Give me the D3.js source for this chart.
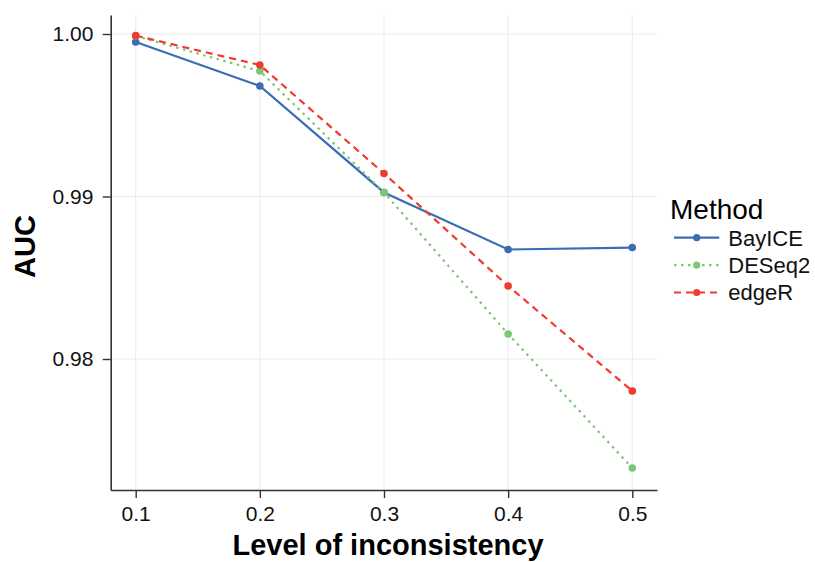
<!DOCTYPE html>
<html>
<head>
<meta charset="utf-8">
<script src="https://cdn.jsdelivr.net/npm/d3@7"></script>
<style>
  html, body { margin: 0; padding: 0; background: #fff; }
  svg { display: block; font-family: "Liberation Sans", Arial, Helvetica, sans-serif; }
</style>
</head>
<body>
<svg id="chart" width="815" height="562"></svg>
<script>
// Inconsistency levels on the x axis
const levels = [0.1, 0.2, 0.3, 0.4, 0.5];
const methods = ["BayICE", "DESeq2", "edgeR"];
// AUC per method at each level
const aucBayICE = [0.99951, 0.99680, 0.99025, 0.98674, 0.98686];
const aucDESeq2 = [0.99988, 0.99772, 0.99025, 0.98154, 0.97329];
const aucEdgeR  = [0.99990, 0.99809, 0.99142, 0.98449, 0.97803];
const xTicks = [0.1, 0.2, 0.3, 0.4, 0.5];
const yTicks = [0.98, 0.99, 1.00];

const seriesValues = { BayICE: aucBayICE, DESeq2: aucDESeq2, edgeR: aucEdgeR };
const colors = { BayICE: "#3b6db5", DESeq2: "#7cc775", edgeR: "#ef3b2f" };
const dashes = { BayICE: null, DESeq2: "2.5,4.5", edgeR: "7,5" };

const svg = d3.select("#chart");
const plotLeft = 110.7, plotRight = 657, plotTop = 15, plotBottom = 490;

const x = d3.scaleLinear().domain([0.07986, 0.51990]).range([plotLeft, plotRight]);
const y = d3.scaleLinear().domain([0.971938, 1.001170]).range([plotBottom, plotTop]);

// grid
const grid = svg.append("g");
grid.selectAll("line.gx").data(xTicks).join("line")
  .attr("x1", d => x(d)).attr("x2", d => x(d))
  .attr("y1", plotTop).attr("y2", plotBottom)
  .attr("stroke", "#ebebeb").attr("stroke-width", 1);
grid.selectAll("line.gy").data(yTicks).join("line")
  .attr("x1", plotLeft).attr("x2", plotRight)
  .attr("y1", d => y(d)).attr("y2", d => y(d))
  .attr("stroke", "#ebebeb").attr("stroke-width", 1);

// axes
const xAxis = svg.append("g").attr("transform", `translate(0,${plotBottom})`)
  .call(d3.axisBottom(x).tickValues(xTicks).tickFormat(d3.format(".1f")).tickSize(8).tickSizeOuter(0));
const yAxis = svg.append("g").attr("transform", `translate(${plotLeft},0)`)
  .call(d3.axisLeft(y).tickValues(yTicks).tickFormat(d3.format(".2f")).tickSize(8).tickSizeOuter(0));
[xAxis, yAxis].forEach(a => {
  a.select(".domain").attr("stroke", "#333").attr("stroke-width", 1.6);
  a.selectAll(".tick line").attr("stroke", "#333").attr("stroke-width", 1.4);
  a.selectAll(".tick text").attr("fill", "#111").attr("font-size", 21)
    .attr("font-family", "Liberation Sans, Arial, sans-serif");
});
xAxis.selectAll(".tick text").attr("dy", "0.94em");
yAxis.selectAll(".tick text").attr("dx", "-0.3em");

// axis titles
svg.append("text").attr("x", 388).attr("y", 555).attr("text-anchor", "middle")
  .attr("font-size", 29).attr("font-weight", "bold").attr("fill", "#000")
  .text("Level of inconsistency");
svg.append("text").attr("transform", "translate(35,246.5) rotate(-90)")
  .attr("text-anchor", "middle").attr("font-size", 29).attr("font-weight", "bold").attr("fill", "#000")
  .text("AUC");

// lines and points
const line = d3.line().x((d, i) => x(levels[i])).y(d => y(d));
methods.forEach(m => {
  const vals = seriesValues[m];
  svg.append("path").datum(vals)
    .attr("d", line).attr("fill", "none")
    .attr("stroke", colors[m]).attr("stroke-width", 2.2)
    .attr("stroke-dasharray", dashes[m]);
  svg.append("g").selectAll("circle").data(vals).join("circle")
    .attr("cx", (d, i) => x(levels[i])).attr("cy", d => y(d))
    .attr("r", 3.8).attr("fill", colors[m]);
});

// legend
const lg = svg.append("g").attr("transform", "translate(670,0)");
lg.append("text").attr("x", 0).attr("y", 219).attr("font-size", 28).attr("fill", "#000").text("Method");
methods.forEach((m, i) => {
  const yy = 237.7 + i * 27.4;
  lg.append("line").attr("x1", 4).attr("x2", 49.3).attr("y1", yy).attr("y2", yy)
    .attr("stroke", colors[m]).attr("stroke-width", 2.2).attr("stroke-dasharray", dashes[m]);
  lg.append("circle").attr("cx", 26.7).attr("cy", yy).attr("r", 3.6).attr("fill", colors[m]);
  lg.append("text").attr("x", 58.3).attr("y", yy + 7.8).attr("font-size", 22).attr("fill", "#111").text(m);
});
</script>
</body>
</html>
